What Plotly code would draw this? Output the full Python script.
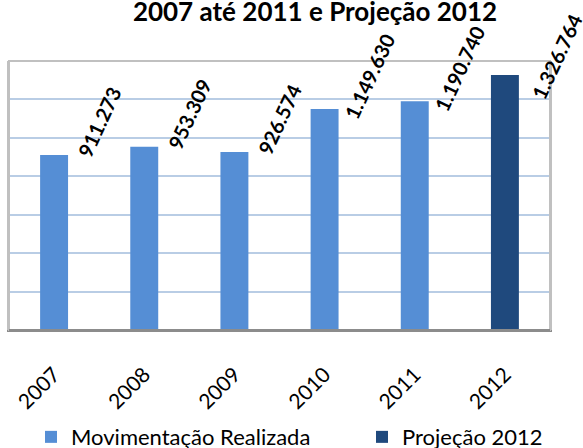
import plotly.graph_objects as go

years = ["2007", "2008", "2009", "2010", "2011", "2012"]
realizada_years = ["2007", "2008", "2009", "2010", "2011"]
realizada_values = [911273, 953309, 926574, 1149630, 1190740]
projecao_years = ["2012"]
projecao_values = [1326764]
label_texts = ["911.273", "953.309", "926.574", "1.149.630", "1.190.740", "1.326.764"]
title_text = "2007 até 2011 e Projeção 2012"
series_names = ["Movimentação Realizada", "Projeção 2012"]

FONT = "Lato"
fig = go.Figure()
fig.add_trace(go.Bar(x=realizada_years, y=realizada_values, name=series_names[0],
                     marker=dict(color="#558ED5", line=dict(width=0)), legend="legend"))
fig.add_trace(go.Bar(x=projecao_years, y=projecao_values, name=series_names[1],
                     marker=dict(color="#1F497D", line=dict(width=0)), legend="legend2"))

all_years = realizada_years + projecao_years
all_values = realizada_values + projecao_values
n = len(all_years)
for i, (yr, val, txt) in enumerate(zip(all_years, all_values, label_texts)):
    # the last label is nudged inward so it stays inside the chart area
    xs, ys = (52, 19) if i == n - 1 else (45, 33)
    fig.add_annotation(x=years.index(yr), y=val, text="<b>%s</b>" % txt, showarrow=False,
                       textangle=-65, xanchor="center", yanchor="middle",
                       xshift=xs, yshift=ys,
                       font=dict(family=FONT, size=20, color="#000000"))

legend_style = dict(orientation="h", xanchor="left", y=-0.398, yanchor="middle",
                    font=dict(family=FONT, size=22, color="#000000"),
                    bgcolor="rgba(0,0,0,0)")
fig.update_layout(
    width=583, height=448,
    margin=dict(l=9, r=33, t=61, b=118, autoexpand=False),
    paper_bgcolor="white", plot_bgcolor="white",
    barmode="overlay", bargap=0.69,
    title=dict(text="<b>%s</b>" % title_text, x=315/583, xanchor="center",
               y=1 - 12/448, yanchor="middle", yref="container",
               font=dict(family=FONT, size=26, color="#000000")),
    legend=dict(x=(31 - 9) / 541, **legend_style),
    legend2=dict(x=(362 - 9) / 541, **legend_style),
    showlegend=True,
)
fig.update_xaxes(type="category", categoryorder="array", categoryarray=years,
                 range=[-0.5, 5.5], tickangle=-45,
                 tickfont=dict(family=FONT, size=21, color="#000000"),
                 showline=True, linecolor="#8C8C8C", linewidth=2, mirror=False,
                 ticks="", ticklabelstandoff=22, showgrid=False, automargin=False)
fig.update_yaxes(range=[0, 1400000], dtick=200000, showticklabels=False,
                 showgrid=True, gridcolor="#B9CDE5", gridwidth=2,
                 showline=True, linecolor="#C0C0C0", linewidth=2, mirror=True,
                 zeroline=False, ticks="", automargin=False)
fig.add_shape(type="rect", xref="paper", yref="paper", x0=0, x1=1, y0=0, y1=1,
              line=dict(color="#C0C0C0", width=2), layer="above")
fig.add_shape(type="line", xref="paper", yref="paper", x0=0, x1=1, y0=0, y1=0,
              line=dict(color="#8C8C8C", width=2), layer="above")

fig.write_html("out.html", config={"displayModeBar": False},
               post_script="document.body.style.margin='0px';")
